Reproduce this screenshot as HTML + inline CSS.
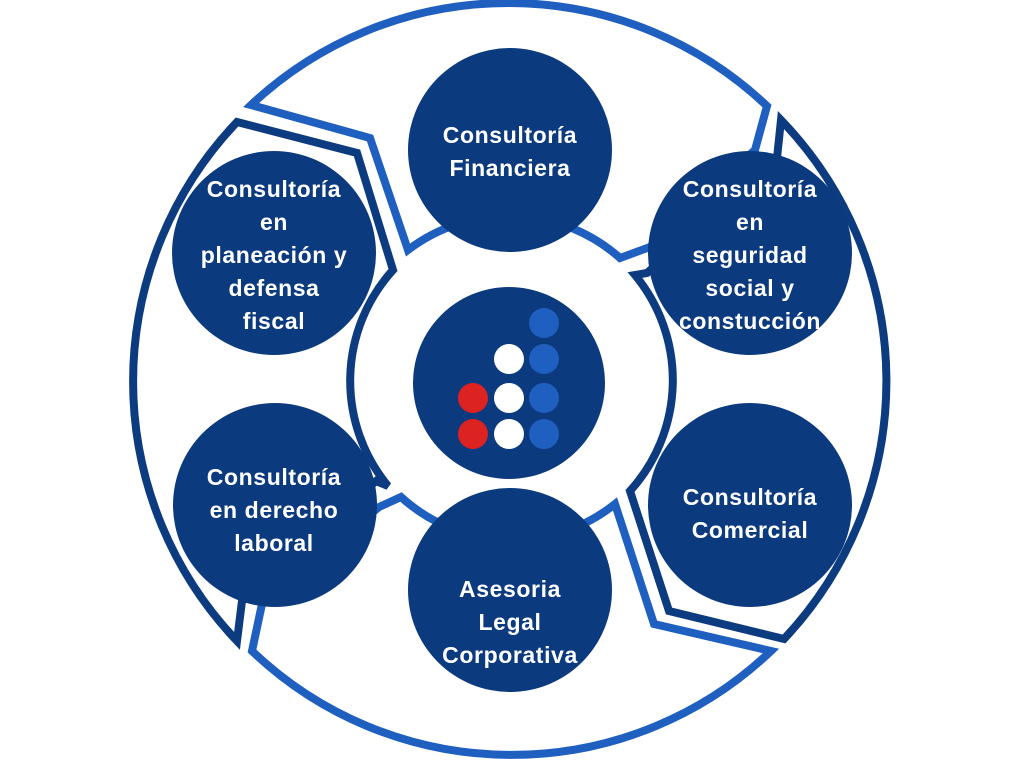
<!DOCTYPE html>
<html><head><meta charset="utf-8"><style>
html,body{margin:0;padding:0;background:#fff;width:1024px;height:768px;overflow:hidden}
text{font-family:"Liberation Sans",sans-serif;font-weight:bold;font-size:23px;letter-spacing:0.6px;fill:#fff;text-anchor:middle}
</style></head><body>
<svg width="1024" height="768" viewBox="0 0 1024 768" xmlns="http://www.w3.org/2000/svg">
<g fill="none" stroke-width="8" stroke-linejoin="miter">
<path stroke="#1e5fbf" d="M251,105 A376,376 0 0 1 767,106 L755,150 L650,247 L620,258 A167,167 0 0 0 408,250 L370,138 Z"/>
<path stroke="#0d3b80" d="M237,122 L357,153 L393,270 A165,165 0 0 0 388,486 L376,481 L242,601 L237,641 A376,376 0 0 1 237,122 Z"/>
<path stroke="#1e5fbf" d="M252,651 A376,376 0 0 0 771,651 L654,624 L615,504 A165,165 0 0 1 401,497 L379,507 L262,604 Z"/>
<path stroke="#0d3b80" d="M781,120 A376,376 0 0 1 784,639 L669,611 L630,491 A165,165 0 0 0 635,275 L647,273 L777,158 Z"/>
</g>
<g fill="#0c3a7e">
<circle cx="510" cy="150" r="102"/>
<circle cx="274" cy="253" r="102"/>
<circle cx="750" cy="253" r="102"/>
<circle cx="275" cy="505" r="102"/>
<circle cx="750" cy="505" r="102"/>
<circle cx="510" cy="590" r="102"/>
<circle cx="509" cy="383" r="96"/>
</g>
<circle cx="544" cy="323" r="15" fill="#1e5fbf"/>
<circle cx="544" cy="359" r="15" fill="#1e5fbf"/>
<circle cx="544" cy="398" r="15" fill="#1e5fbf"/>
<circle cx="544" cy="434" r="15" fill="#1e5fbf"/>
<circle cx="509" cy="359" r="15" fill="#fff"/>
<circle cx="509" cy="398" r="15" fill="#fff"/>
<circle cx="509" cy="434" r="15" fill="#fff"/>
<circle cx="473" cy="398" r="15" fill="#dd2222"/>
<circle cx="473" cy="434" r="15" fill="#dd2222"/>
<text x="510" y="143">Consultoría</text>
<text x="510" y="176">Financiera</text>
<text x="274" y="197">Consultoría</text>
<text x="274" y="230">en</text>
<text x="274" y="263">planeación y</text>
<text x="274" y="296">defensa</text>
<text x="274" y="329">fiscal</text>
<text x="750" y="197">Consultoría</text>
<text x="750" y="230">en</text>
<text x="750" y="263">seguridad</text>
<text x="750" y="296">social y</text>
<text x="750" y="329">constucción</text>
<text x="274" y="485">Consultoría</text>
<text x="274" y="518">en derecho</text>
<text x="274" y="551">laboral</text>
<text x="750" y="505">Consultoría</text>
<text x="750" y="538">Comercial</text>
<text x="510" y="597">Asesoria</text>
<text x="510" y="630">Legal</text>
<text x="510" y="663">Corporativa</text>
</svg>
</body></html>
